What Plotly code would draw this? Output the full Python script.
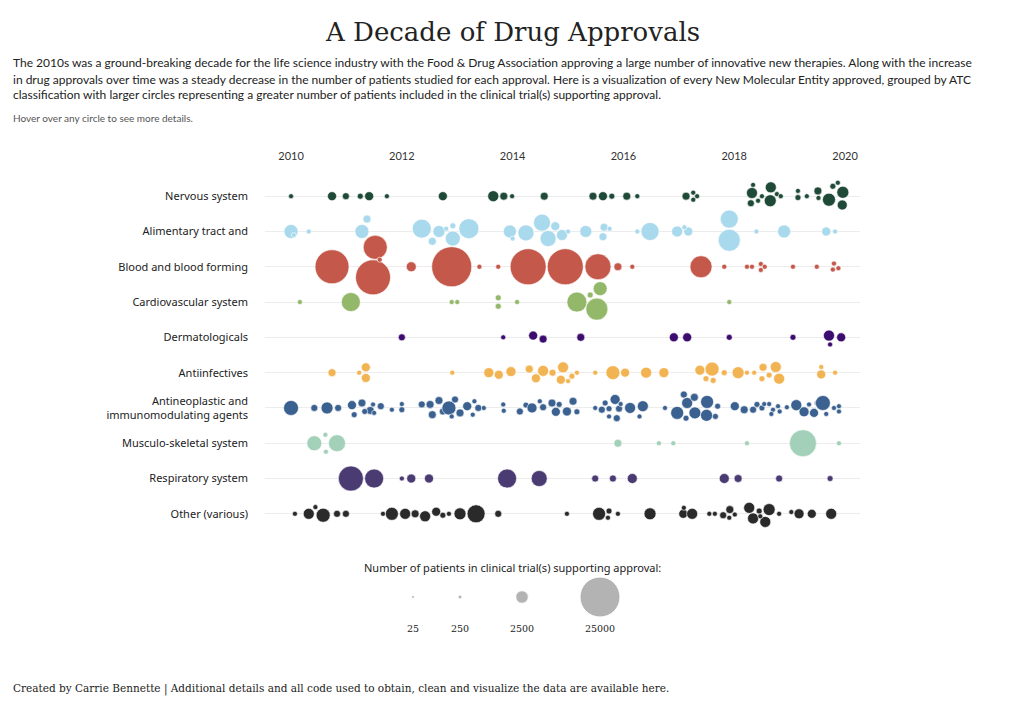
import plotly.graph_objects as go

categories = ["Nervous system", "Alimentary tract and", "Blood and blood forming", "Cardiovascular system",
              "Dermatologicals", "Antiinfectives", "Antineoplastic and<br>immunomodulating agents",
              "Musculo-skeletal system", "Respiratory system", "Other (various)"]
colors = ["#1f4a38", "#a9d9ec", "#c4584a", "#93b86a", "#3c0d6e", "#f2b453", "#3b6190", "#a3d0b8", "#4b3b73", "#2a2a2a"]

# (approval year, patients, vertical swarm offset in row units)
nervous = [(2010.0,140,0),(2010.74,1270,0),(2010.99,770,0),(2011.25,560,0),(2011.41,1270,0),(2011.73,250,0),(2012.74,1270,0),(2013.65,1900,0),(2013.84,1000,0),(2013.99,140,0),(2014.57,1000,0),
    (2015.45,1000,0),(2015.63,1270,0),(2015.79,560,0),(2016.06,1000,0),(2016.25,140,0),(2017.13,1000,0),(2017.26,140,-0.1),(2017.26,140,0.1),(2017.33,140,0),
    (2018.32,1900,-0.09),(2018.30,770,0.2),(2018.43,390,0.13),(2018.34,62,-0.32),(2018.50,250,0),(2018.66,1900,-0.25),(2018.65,2250,0.13),(2018.77,250,-0.06),(2018.84,140,0),
    (2019.15,560,0.04),(2019.15,140,-0.15),(2019.31,390,0),(2019.51,1000,-0.15),(2019.52,140,0.05),(2019.71,2640,0.1),(2019.78,560,-0.28),(2019.87,250,-0.38),(2019.96,2250,-0.11),(2019.95,1560,0.25)]
alimentary = [(2010.0,3060,0),(2010.05,62,0.1),(2010.32,62,0),(2011.28,3060,0),(2011.37,1000,-0.35),(2012.3,30,0),(2012.36,5640,-0.08),(2012.55,1000,0.28),(2012.67,2250,0),(2012.80,140,-0.08),(2012.92,560,-0.16),(2012.92,3500,0.2),(2013.21,6250,-0.08),(2013.95,2640,0),(2014.0,140,0.2),(2014.24,4000,0.04),(2014.53,4500,-0.25),(2014.77,1270,-0.15),(2014.64,4000,0.2),(2014.89,1900,0.1),
    (2015.0,62,0),(2015.32,2250,0),(2015.65,1000,-0.12),(2015.63,1000,0.15),(2015.75,62,-0.08),(2016.25,140,0),(2016.48,5060,0),(2016.97,1900,0),(2017.17,1270,0),(2017.1,40,-0.12),(2017.91,5060,-0.35),(2017.91,7560,0.25),(2018.4,30,0),(2018.9,2640,0),(2019.66,1270,0),(2019.82,62,0)]
blood = [(2010.74,18000,0),(2011.52,9000,-0.55),(2011.48,19100,0.3),(2011.6,140,-0.2),(2012.17,1560,0),(2012.9,25000,0),(2013.4,62,0),(2013.74,140,0),(2014.28,20250,0),(2014.95,20250,0),(2015.54,10600,0),(2015.90,1000,0),(2016.16,140,0),(2017.40,7560,0),(2017.82,140,0),(2018.23,140,0),(2018.32,390,0),(2018.48,250,-0.08),(2018.48,140,0.09),(2018.55,62,0),(2019.06,140,0),(2019.49,250,0),(2019.80,250,-0.09),(2019.78,140,0.08),(2019.88,140,0.04)]
cardio = [(2010.16,140,0),(2011.08,5640,0),(2012.9,30,0),(2013.0,30,0),(2013.74,560,-0.12),(2013.74,560,0.12),(2014.08,250,0),(2015.16,6250,0),(2015.40,560,-0.2),(2015.58,3060,-0.38),(2015.52,7560,0.2),(2017.91,250,0)]
derm = [(2012.0,770,0),(2013.83,250,0),(2014.37,1270,-0.05),(2014.55,1000,0.05),(2015.23,1000,0),(2016.91,1270,0),(2017.15,1270,0),(2017.91,560,0),(2019.06,560,0),(2019.71,1900,-0.05),(2019.93,1270,0),(2019.73,140,0.2)]
antiinf = [(2010.74,1000,0),(2011.23,140,0),(2011.35,1270,-0.15),(2011.35,1270,0.15),(2012.91,140,0),(2013.57,1560,0),(2013.75,1270,0.06),(2013.97,1560,-0.03),(2014.30,1000,-0.1),(2014.42,1270,0.16),(2014.55,1900,-0.05),(2014.72,770,0),(2014.91,1900,-0.15),(2014.87,1270,0.2),(2015.0,250,0.24),
    (2015.07,560,0.1),(2015.16,390,0),(2015.49,140,0),(2015.81,3060,0),(2016.03,1270,0),(2016.41,1900,0),(2016.73,1560,0),(2017.38,1560,-0.07),(2017.60,3060,-0.1),(2017.49,560,0.17),(2017.62,560,0.22),(2017.82,560,0),(2018.07,2250,0),(2018.23,62,0),(2018.36,390,0),(2018.52,1000,-0.15),(2018.50,560,0.17),(2018.63,560,0.07),(2018.75,1900,-0.16),(2018.81,1900,0.17),(2019.57,1270,0.05),(2019.57,62,-0.16),(2019.82,390,0)]
antineo = [(2010.0,3500,0),(2010.42,770,0),(2010.65,2250,0),(2010.85,770,0),(2011.10,1270,-0.08),(2011.14,560,0.19),(2011.28,1000,-0.14),(2011.43,1000,0.07),(2011.33,560,0.1),(2011.48,250,-0.1),(2011.50,250,0.14),(2011.62,770,-0.05),(2011.82,390,0.05),(2012.0,560,0.05),(2012.0,62,-0.11),
    (2012.36,770,-0.1),(2012.51,1000,-0.1),(2012.55,1000,0.19),(2012.67,1000,-0.21),(2012.74,770,0.1),(2012.85,3060,0),(2012.90,250,0.24),(2012.96,770,-0.24),(2013.05,1000,0.14),(2013.18,1270,-0.05),(2013.31,390,-0.19),(2013.28,250,0.19),(2013.38,770,0),(2013.48,390,0),(2013.83,140,-0.1),(2013.84,390,0.08),
    (2014.13,770,0.1),(2014.24,560,-0.08),(2014.35,1560,0),(2014.49,250,-0.19),(2014.55,770,-0.02),(2014.71,1000,-0.14),(2014.78,1270,0.11),(2014.84,560,-0.1),(2014.98,1270,0.1),
    (2015.09,1000,-0.19),(2015.16,560,0.11),(2015.49,250,0),(2015.61,770,0.05),(2015.67,560,-0.14),(2015.74,560,0.02),(2015.74,390,0.24),(2015.85,1560,-0.24),(2015.88,770,0.29),(2015.92,770,0.02),(2015.95,250,-0.11),(2016.12,1900,0),(2016.35,1900,-0.05),(2016.29,250,0.24),(2016.75,140,0),
    (2016.97,2640,0.14),(2017.09,770,-0.38),(2017.15,1900,-0.14),(2017.13,560,0.29),(2017.29,2250,0.14),(2017.28,1000,-0.3),(2017.51,2640,-0.17),(2017.50,2250,0.21),(2017.70,560,-0.05),(2017.66,560,0.24),
    (2018.01,1270,-0.05),(2018.18,1000,0.05),(2018.34,770,0.05),(2018.41,560,-0.1),(2018.50,560,0),(2018.54,250,-0.11),(2018.63,390,-0.11),(2018.70,250,0.05),(2018.67,140,0.17),(2018.79,140,-0.05),(2018.82,140,0.1),(2018.95,390,-0.02),
    (2019.12,1900,-0.08),(2019.26,1560,0.11),(2019.35,250,-0.1),(2019.44,1270,0.14),(2019.49,390,-0.14),(2019.60,3500,-0.14),(2019.66,250,0.17),(2019.80,140,0),(2019.89,140,-0.05),(2019.89,140,0.1)]
musculo = [(2010.42,3500,0),(2010.83,4500,0),(2010.62,140,-0.24),(2010.63,140,0.24),(2015.90,1000,0),(2016.64,30,0),(2016.90,140,0),(2018.23,140,0),(2019.24,11400,0),(2019.89,30,0)]
resp = [(2011.08,9800,0),(2011.50,5640,0),(2012.0,140,0),(2012.17,1270,0),(2012.49,1270,0),(2013.90,5640,0),(2014.48,4000,0),(2015.49,770,0),(2015.81,770,0),(2016.16,1560,0),(2017.82,1560,0),(2018.07,1000,0),(2018.81,770,0),(2019.73,560,0)]
other = [(2010.07,250,0),(2010.32,1900,0),(2010.44,390,-0.19),(2010.58,3060,0.04),(2010.83,770,0),(2010.99,770,0),(2011.66,250,0),(2011.82,2640,0),(2012.06,1900,0),(2012.24,1000,0),(2012.42,1900,0.07),(2012.62,1270,-0.06),(2012.74,560,0.04),(2012.85,140,0),(2013.05,2250,0),(2013.34,5060,0),(2013.74,770,0),(2014.98,140,0),
    (2015.56,2640,0),(2015.74,560,-0.08),(2015.72,140,0.11),(2015.90,390,0),(2016.48,2250,0),(2017.08,1270,0),(2017.09,140,-0.17),(2017.24,1900,0),(2017.55,140,0),(2017.65,250,0),(2017.80,770,0.04),(2017.92,1000,-0.12),(2017.91,140,0.11),(2018.01,390,0.02),
    (2018.27,1900,-0.17),(2018.34,1900,0.13),(2018.56,1900,0.23),(2018.45,560,-0.08),(2018.63,2250,-0.12),(2018.47,140,0.07),(2018.81,390,0),(2019.03,390,-0.05),(2019.17,1560,0),(2019.40,1270,0),(2019.75,1900,0)]
series = [nervous, alimentary, blood, cardio, derm, antiinf, antineo, musculo, resp, other]

legend_values = [25, 250, 2500, 25000]
year_ticks = [2010, 2012, 2014, 2016, 2018, 2020]

SIZEREF = (25000 ** 0.5) / 40
OFF = 8  # page body margin

fig = go.Figure()
for i, (data, col) in enumerate(zip(series, colors)):
    fig.add_trace(go.Scatter(
        x=[d[0] for d in data], y=[i + d[2] for d in data], mode="markers",
        marker=dict(size=[d[1] ** 0.5 for d in data], sizemode="diameter", sizeref=SIZEREF, sizemin=2.5,
                    color=col, opacity=1, line=dict(width=0.6, color="white")),
        hoverinfo="skip", showlegend=False))

leg_x = [413, 460, 522, 600]
fig.add_trace(go.Scatter(x=leg_x, y=[597] * 4, xaxis="x2", yaxis="y2", mode="markers",
    marker=dict(size=[v ** 0.5 for v in legend_values], sizemode="diameter", sizeref=SIZEREF, sizemin=1.5,
                color="#b3b3b3", opacity=1),
    hoverinfo="skip", showlegend=False))
fig.add_trace(go.Scatter(x=leg_x, y=[630] * 4, xaxis="x2", yaxis="y2", mode="text",
    text=[str(v) for v in legend_values], textfont=dict(family="DejaVu Serif", size=9.5, color="#222"),
    hoverinfo="skip", showlegend=False))

fig.update_layout(
    width=1024, height=712, paper_bgcolor="white", plot_bgcolor="rgba(0,0,0,0)",
    margin=dict(l=0, r=0, t=0, b=0),
    xaxis=dict(domain=[(265 - OFF) / 1024, (860 - OFF) / 1024], range=[2009.53, 2020.27], side="top",
               tickvals=year_ticks, showgrid=False, zeroline=False, showline=False, ticks="",
               ticklabelstandoff=12, tickfont=dict(family="Lato", size=11, color="#333")),
    yaxis=dict(domain=[1 - (535 - OFF) / 712, 1 - (175 - OFF) / 712], range=[9.6, -0.6], tickvals=list(range(10)),
               ticktext=categories, showgrid=True, gridcolor="#ececec", zeroline=False, ticks="",
               ticklabelstandoff=16, tickfont=dict(family="Noto Sans", size=11, color="#222")),
    xaxis2=dict(domain=[0, 1], range=[OFF, 1024 + OFF], visible=False, anchor="y2"),
    yaxis2=dict(domain=[0, 1], range=[712 + OFF, OFF], visible=False, anchor="x2"),
)

def txt(x, y, s, size=13, fam="Lato", color="#222", anchor="left"):
    fig.add_annotation(x=(x - OFF) / 1024, y=1 - (y - OFF) / 712, xref="paper", yref="paper", text=s,
                       showarrow=False, xanchor=anchor, yanchor="middle",
                       font=dict(family=fam, size=size, color=color))

txt(512, 32, "A Decade of Drug Approvals", size=26, fam="DejaVu Serif", anchor="center")
txt(11, 62, "The 2010s was a ground-breaking decade for the life science industry with the Food & Drug Association approving a large number of innovative new therapies. Along with the increase", size=12)
txt(11, 79, "in drug approvals over time was a steady decrease in the number of patients studied for each approval. Here is a visualization of every New Molecular Entity approved, grouped by ATC", size=12)
txt(11, 95, "classification with larger circles representing a greater number of patients included in the clinical trial(s) supporting approval.", size=12)
txt(11, 118, "Hover over any circle to see more details.", size=10, color="#555")
txt(512, 567, "Number of patients in clinical trial(s) supporting approval:", size=11, fam="Noto Sans", anchor="center")
txt(11, 689, "Created by Carrie Bennette | Additional details and all code used to obtain, clean and visualize the data are available here.", size=10.5, fam="DejaVu Serif")

fig.write_html("out.html")
